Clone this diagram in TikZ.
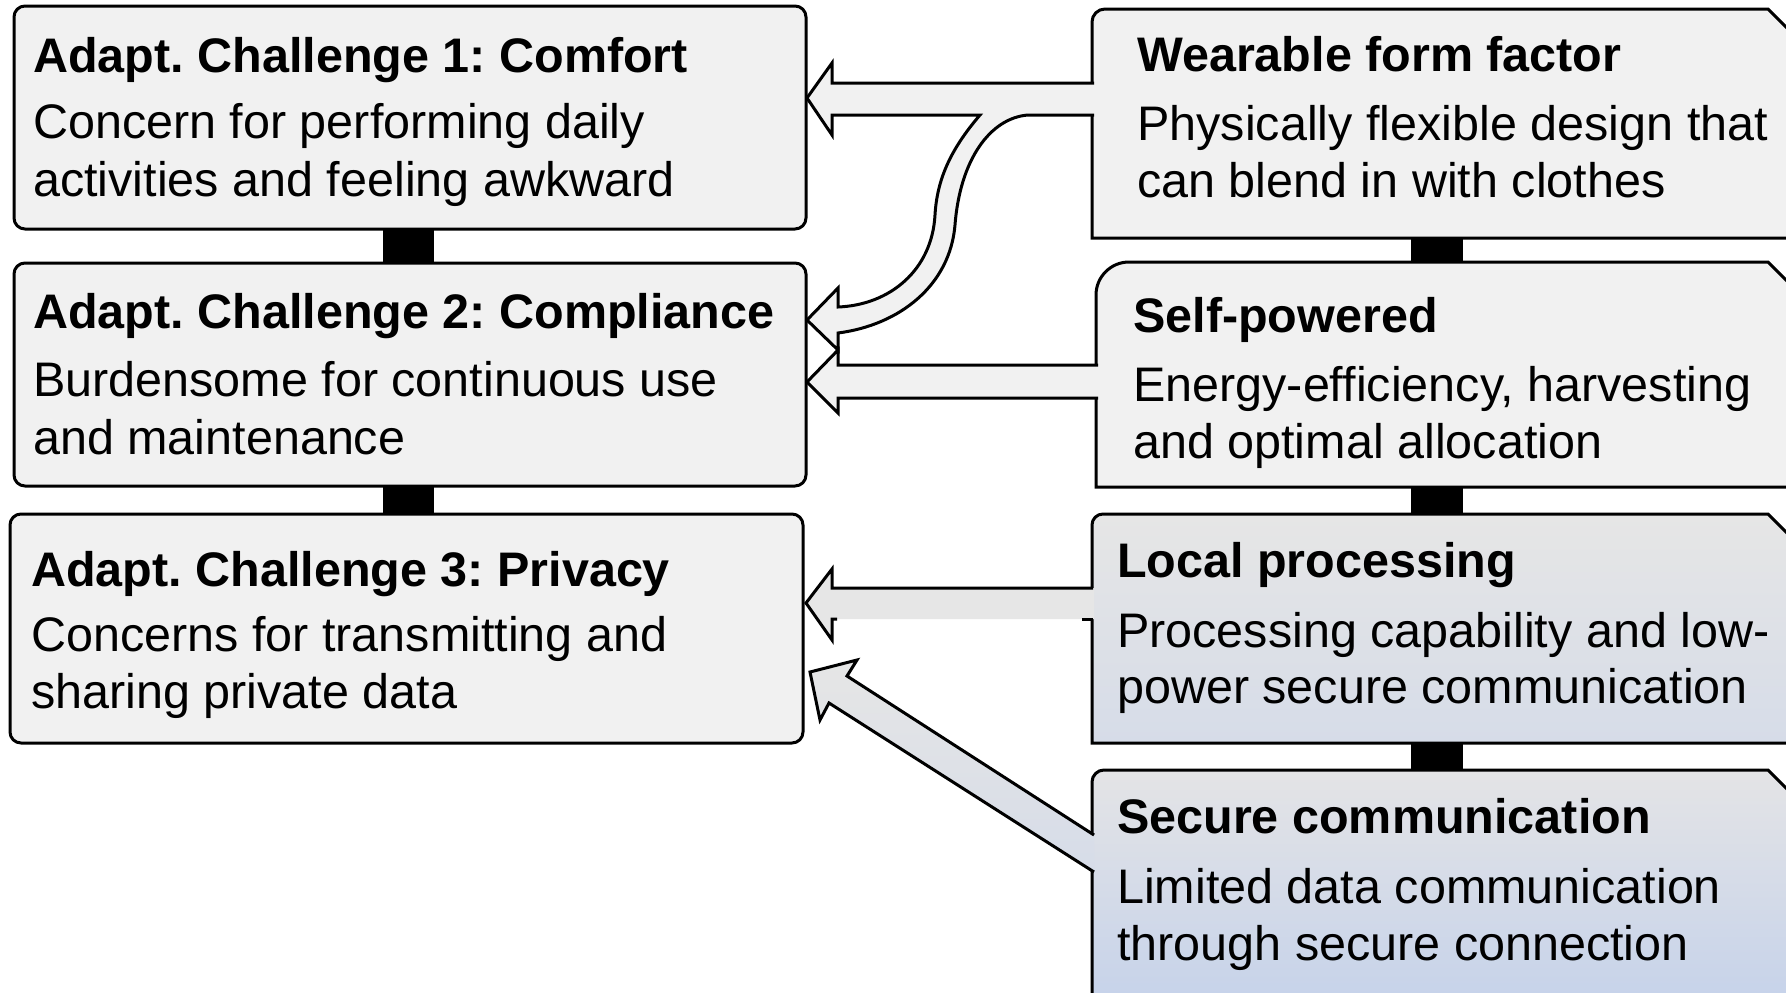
\documentclass[tikz,border=0pt]{standalone}
\usepackage{fontspec}
\setmainfont{Liberation Sans}
\frenchspacing
\definecolor{boxgray}{HTML}{F1F1F1}
\definecolor{arrgray}{HTML}{E6E6E6}
\definecolor{lptop}{HTML}{E6E6E6}
\definecolor{lpbot}{HTML}{D6DCE8}
\definecolor{sctop}{HTML}{E4E4E6}
\definecolor{scbot}{HTML}{C5D2EA}
\tikzset{
  lbox/.style={draw=black, line width=3pt, fill=boxgray, rounded corners=11pt,
    anchor=north west, inner sep=0pt, outer sep=0pt},
  rbox/.style={draw=black, line width=3pt, line join=miter},
  ttl/.style={anchor=base west, inner sep=0pt, font=\fontsize{48.5}{58}\selectfont\bfseries},
  txt/.style={anchor=base west, inner sep=0pt, font=\fontsize{48.5}{58}\selectfont},
  link/.style={fill=black},
  aline/.style={draw=black, line width=3pt, line join=miter},
}
\begin{document}
\frenchspacing
\begin{tikzpicture}[x=1pt,y=-1pt]
\clip (0,0) rectangle (1786,993);
\fill[white] (0,0) rectangle (1786,993);

% black links between boxes
\fill[link] (383,225) rectangle (434,267);
\fill[link] (383,482) rectangle (434,518);
\fill[link] (1411,234) rectangle (1463,266);
\fill[link] (1411,483) rectangle (1463,518);
\fill[link] (1411,739) rectangle (1463,774);

% left boxes
\node[lbox, minimum width=792pt, minimum height=223pt] (c1) at (14,6) {};
\node[lbox, minimum width=792pt, minimum height=223pt] (c2) at (14,263) {};
\node[lbox, minimum width=793pt, minimum height=229pt] (c3) at (10,514) {};

% right boxes
\draw[rbox, fill=boxgray] (1092,238) -- (1092,22) .. controls (1092,14.8) and (1097.8,9) .. (1105,9)
  -- (1768,9) -- (1830,71) -- (1830,238) -- cycle;
\draw[rbox, fill=boxgray] (1096,487) -- (1096,295) .. controls (1096,276.8) and (1110.8,262) .. (1129,262)
  -- (1768,262) -- (1830,324) -- (1830,487) -- cycle;
\draw[rbox, top color=lptop, bottom color=lpbot] (1092,743) -- (1092,525) .. controls (1092,518.9) and (1096.9,514) .. (1103,514)
  -- (1768,514) -- (1830,576) -- (1830,743) -- cycle;
\draw[rbox, top color=sctop, bottom color=scbot] (1092,1010) -- (1092,782) .. controls (1092,775.4) and (1097.4,770) .. (1104,770)
  -- (1768,770) -- (1830,832) -- (1830,1010) -- cycle;

% texts left
\node[ttl] (t1) at (33,72) {Adapt. Challenge 1: Comfort};
\node[txt] (t1a) at (33,138) {Concern for performing daily};
\node[txt] (t1b) at (33,196) {activities and feeling awkward};
\node[ttl] (t2) at (33,328) {Adapt. Challenge 2: Compliance};
\node[txt] (t2a) at (33,396) {Burdensome for continuous use};
\node[txt] (t2b) at (33,454) {and maintenance};
\node[ttl] (t3) at (31,586) {Adapt. Challenge 3: Privacy};
\node[txt] (t3a) at (31,651) {Concerns for transmitting and};
\node[txt] (t3b) at (31,708) {sharing private data};

% texts right
\node[ttl] (w) at (1137,71) {Wearable form factor};
\node[txt] (wa) at (1137,140) {Physically flexible design that};
\node[txt] (wb) at (1137,197) {can blend in with clothes};
\node[ttl] (s) at (1133,332) {Self-powered};
\node[txt] (sa) at (1133,401) {Energy-efficiency, harvesting};
\node[txt] (sb) at (1133,458) {and optimal allocation};
\node[ttl] (l) at (1117,577) {Local processing};
\node[txt] (la) at (1117,647) {Processing capability and low-};
\node[txt] (lb) at (1117,703) {power secure communication};
\node[ttl] (sc) at (1117,833) {Secure communication};
\node[txt] (sca) at (1117,903) {Limited data communication};
\node[txt] (scb) at (1117,960) {through secure connection};

% arrow 1 with curved branch
\draw[aline, fill=boxgray] (1094,83) -- (832,83) -- (832,63) -- (807,98) -- (832,135) -- (832,115) -- (980,115)
  .. controls (950,150) and (937,180) .. (935,215)
  .. controls (932,270) and (890,305) .. (838,307)
  -- (838,288) -- (807,320) -- (838,350) -- (838,333)
  .. controls (900,325) and (950,285) .. (955,225)
  .. controls (960,160) and (990,118) .. (1028,115)
  -- (1094,115);

% arrow 2
\draw[aline, fill=boxgray] (1098,365) -- (838,365) -- (838,350) -- (807,382) -- (838,413) -- (838,398) -- (1098,398);

% arrow 3
\fill[arrgray] (1094,588) -- (832,588) -- (832,569) -- (806,603) -- (832,640) -- (832,619) -- (1094,619) -- cycle;
\draw[aline] (1093,588) -- (832,588) -- (832,569) -- (806,603) -- (832,640) -- (832,619) -- (837,619);
\draw[aline] (1082,619) -- (1093,619);

% arrow 4
\draw[aline, top color=arrgray, bottom color=lpbot] (1094,835) -- (847,676) -- (857,660) -- (810,672)
  -- (820,720) -- (829,703) -- (1094,872);
\end{tikzpicture}
\end{document}
